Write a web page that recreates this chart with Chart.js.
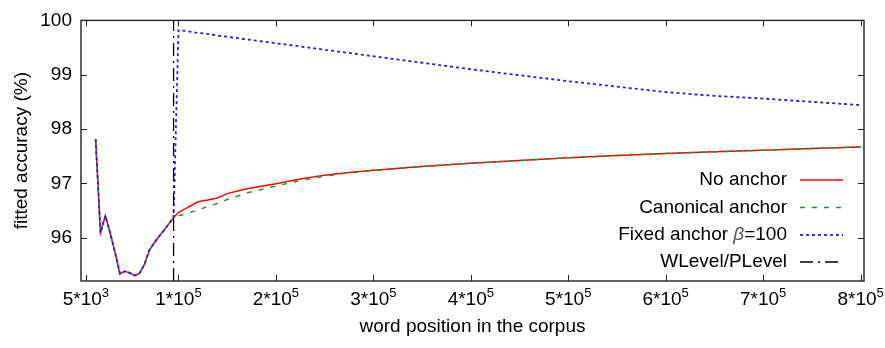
<!DOCTYPE html>
<html>
<head>
<meta charset="utf-8">
<script src="https://cdn.jsdelivr.net/npm/chart.js@4.4.0/dist/chart.umd.min.js"></script>
<style>
    body { margin: 0; background: #fff; }
</style>
</head>
<body>
<canvas id="myChart" width="885" height="348"></canvas>
<script>
// word positions (x)
const positions = [15000, 20000, 25000, 30000, 35000, 40000, 45000, 50000, 55000, 60000,
    65000, 70000, 75000, 80000, 85000, 90000, 95000,
    100000, 110000, 120000, 130000, 140000, 150000, 170000, 200000, 225000, 250000,
    275000, 300000, 350000, 400000, 450000, 500000, 550000, 600000, 650000, 700000,
    750000, 800000];

// accuracy before the level switch is shared by all three runs
const beforeSwitch = [97.81, 96.09, 96.40, 96.08, 95.72, 95.33, 95.38, 95.35, 95.30, 95.34,
    95.50, 95.76, 95.90, 96.02, 96.13, 96.25, 96.37];

const noAnchor = beforeSwitch.concat([96.46, 96.56, 96.66, 96.69, 96.73, 96.81, 96.90, 96.99,
    97.08, 97.15, 97.20, 97.24, 97.31, 97.37, 97.42, 97.47, 97.51, 97.55, 97.58, 97.61,
    97.64, 97.67]);
const canonicalAnchor = beforeSwitch.concat([96.40, 96.45, 96.51, 96.57, 96.63, 96.70, 96.82,
    96.95, 97.05, 97.13, 97.19, 97.23, 97.31, 97.37, 97.42, 97.47, 97.51, 97.55, 97.58,
    97.61, 97.64, 97.67]);
const fixedAnchor = beforeSwitch.concat([99.82, 99.80, 99.77, 99.75, 99.72, 99.70, 99.65,
    99.58, 99.52, 99.46, 99.40, 99.34, 99.22, 99.10, 98.99, 98.88, 98.78, 98.68, 98.61,
    98.56, 98.50, 98.44]);

// WLevel/PLevel switch
const switchX = [95000, 95000];
const switchY = [95.2, 100];

const xTicks = [5000, 100000, 200000, 300000, 400000, 500000, 600000, 700000, 800000];
// x tick labels as mantissa + exponent (exponent is drawn as superscript)
const xTickBase = ['5*10', '1*10', '2*10', '3*10', '4*10', '5*10', '6*10', '7*10', '8*10'];
const xTickExp = ['3', '5', '5', '5', '5', '5', '5', '5', '5'];
const yTicks = [96, 97, 98, 99, 100];

const labels = ['No anchor', 'Canonical anchor', 'Fixed anchor \u03b2=100', 'WLevel/PLevel'];

function toPoints(xs, ys) {
    return xs.map(function (x, i) { return { x: x, y: ys[i] }; });
}

const FONT = 'Liberation Sans';
const FSIZE = 19;
const SUPSIZE = 13;

// gnuplot style box with inward ticks on all sides
const borderPlugin = {
    id: 'border',
    afterDatasetsDraw(chart) {
        const ctx = chart.ctx;
        const a = chart.chartArea;
        const xs = chart.scales.x, ys = chart.scales.y;
        ctx.save();
        ctx.strokeStyle = '#222';
        ctx.lineWidth = 1.4;
        ctx.setLineDash([]);
        ctx.strokeRect(a.left, a.top, a.right - a.left, a.bottom - a.top);
        ctx.lineWidth = 1;
        ctx.beginPath();
        xTicks.forEach(function (v) {
            const px = Math.round(xs.getPixelForValue(v)) + 0.5;
            ctx.moveTo(px, a.bottom); ctx.lineTo(px, a.bottom - 6);
            ctx.moveTo(px, a.top); ctx.lineTo(px, a.top + 6);
        });
        yTicks.forEach(function (v) {
            const py = Math.round(ys.getPixelForValue(v)) + 0.5;
            ctx.moveTo(a.left, py); ctx.lineTo(a.left + 6, py);
            ctx.moveTo(a.right, py); ctx.lineTo(a.right - 6, py);
        });
        ctx.stroke();

        // x tick labels with superscript exponent
        const baseY = a.bottom + 23.5;
        const fBase = FSIZE + 'px "' + FONT + '"';
        const fSup = SUPSIZE + 'px "' + FONT + '"';
        ctx.fillStyle = '#000';
        ctx.textBaseline = 'alphabetic';
        ctx.textAlign = 'left';
        xTicks.forEach(function (v, i) {
            ctx.font = fBase;
            const wb = ctx.measureText(xTickBase[i]).width;
            ctx.font = fSup;
            const we = ctx.measureText(xTickExp[i]).width;
            const left = xs.getPixelForValue(v) - (wb + we) / 2;
            ctx.font = fBase;
            ctx.fillText(xTickBase[i], left, baseY);
            ctx.font = fSup;
            ctx.fillText(xTickExp[i], left + wb, baseY - 8);
        });
        ctx.restore();
    }
};

// legend: right aligned text, then the line sample
const legendPlugin = {
    id: 'gpLegend',
    afterDraw(chart) {
        const ctx = chart.ctx;
        const textRight = 787, x0 = 800, x1 = 843;
        const rowY = [180, 207.5, 235, 262];
        const f = FSIZE + 'px "' + FONT + '"';
        ctx.save();
        ctx.font = f;
        ctx.textBaseline = 'middle';
        ctx.fillStyle = '#000';
        chart.data.datasets.forEach(function (ds, i) {
            const y = rowY[i];
            ctx.textAlign = 'right';
            if (i === 2) {
                // italic beta
                ctx.fillText('=100', textRight, y);
                let w = ctx.measureText('=100').width;
                ctx.font = 'italic ' + f;
                ctx.fillStyle = '#555';
                ctx.fillText('\u03b2', textRight - w, y);
                w += ctx.measureText('\u03b2').width;
                ctx.font = f;
                ctx.fillStyle = '#000';
                ctx.fillText('Fixed anchor ', textRight - w, y);
            } else {
                ctx.fillText(ds.label, textRight, y);
            }
            ctx.strokeStyle = ds.borderColor;
            ctx.lineWidth = ds.borderWidth;
            ctx.setLineDash(ds.borderDash || []);
            ctx.beginPath();
            ctx.moveTo(x0, y);
            ctx.lineTo(x1, y);
            ctx.stroke();
        });
        ctx.restore();
    }
};

const data = {
    datasets: [{
        label: labels[0],
        data: toPoints(positions, noAnchor),
        borderColor: '#ff0000',
        borderWidth: 1.5,
        order: 4
    }, {
        label: labels[1],
        data: toPoints(positions, canonicalAnchor),
        borderColor: '#2f8f2f',
        borderWidth: 1.5,
        borderDash: [5, 7],
        order: 3
    }, {
        label: labels[2],
        data: toPoints(positions, fixedAnchor),
        borderColor: '#2020ff',
        borderWidth: 1.8,
        borderDash: [3, 3],
        order: 2
    }, {
        label: labels[3],
        data: toPoints(switchX, switchY),
        borderColor: '#000000',
        borderWidth: 1.3,
        borderDash: [13, 5, 2, 5],
        order: 1
    }]
};

const config = {
    type: 'line',
    data,
    options: {
        responsive: false,
        animation: false,
        devicePixelRatio: 1,
        layout: { padding: { top: 13, right: 21, left: 0, bottom: 0 } },
        elements: { point: { radius: 0 }, line: { tension: 0 } },
        plugins: {
            legend: { display: false },
            tooltip: { enabled: false }
        },
        scales: {
            x: {
                type: 'linear',
                min: 0,
                max: 803500,
                grid: { display: false, drawTicks: false },
                border: { display: false },
                afterBuildTicks: function (s) { s.ticks = xTicks.map(function (v) { return { value: v }; }); },
                afterFit: function (s) { s.height = 67; },
                ticks: { display: false },
                title: {
                    display: true,
                    text: 'word position in the corpus',
                    color: '#000',
                    font: { family: FONT, size: FSIZE },
                    padding: { top: 0, bottom: 10 }
                }
            },
            y: {
                min: 95.2,
                max: 100,
                grid: { display: false, drawTicks: false },
                border: { display: false },
                afterBuildTicks: function (s) { s.ticks = yTicks.map(function (v) { return { value: v }; }); },
                afterFit: function (s) { s.width = 81; },
                ticks: {
                    padding: 9,
                    color: '#000',
                    font: { family: FONT, size: FSIZE }
                },
                title: {
                    display: true,
                    text: 'fitted accuracy (%)',
                    color: '#000',
                    font: { family: FONT, size: FSIZE },
                    padding: { top: 10, bottom: 0 }
                }
            }
        }
    },
    plugins: [borderPlugin, legendPlugin]
};

const myChart = new Chart(document.getElementById('myChart'), config);
</script>
</body>
</html>
